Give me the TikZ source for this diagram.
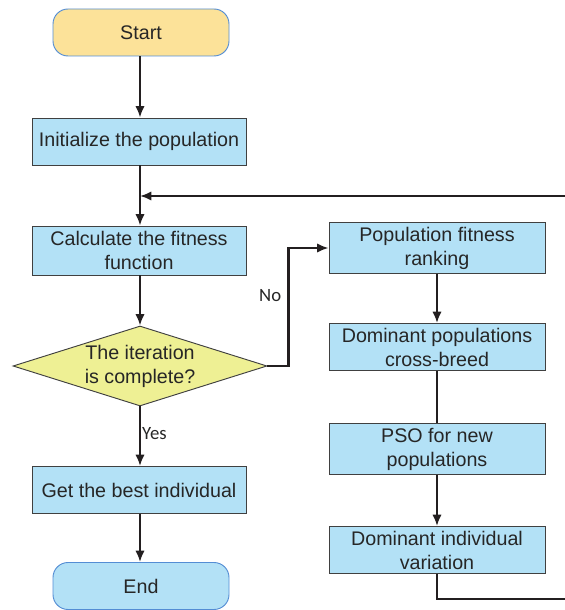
\documentclass[tikz,border=0pt]{standalone}
\usepackage{fontspec}
\setmainfont{Liberation Sans}
\newfontfamily\lblfont{Carlito}
\usetikzlibrary{shapes.geometric}
\usetikzlibrary{arrows.meta}

\definecolor{startfill}{RGB}{252,226,153}
\definecolor{termline}{RGB}{84,141,212}
\definecolor{boxfill}{RGB}{179,225,246}
\definecolor{boxline}{RGB}{64,64,64}
\definecolor{condfill}{RGB}{238,240,148}
\definecolor{flowline}{RGB}{35,31,32}

\tikzset{
  boxtext/.style = {font = \fontsize{16.8}{20.5}\selectfont, align = center,
  text = black!85},
  terminal/.style = {boxtext, rectangle, rounded corners = .45cm,
  draw = termline, line width = .8pt, minimum width = 5.28cm,
  minimum height = 1.41cm},
  process/.style = {boxtext, rectangle, draw = boxline, fill = boxfill,
  line width = .8pt, minimum width = 6.42cm, minimum height = 1.41cm},
  decision/.style = {boxtext, diamond, draw = boxline, fill = condfill,
  line width = .8pt, inner sep = 0pt, aspect = 3.17, minimum width = 7.62cm,
  minimum height = 2.4cm},
  flow/.style = {draw = flowline, line width = 1.8pt},
  lbl/.style = {font = \lblfont\fontsize{16}{18}\selectfont, text = black!85}
}

\begin{document}
\begin{tikzpicture}[>={Latex[length = 3.4mm, width = 2.8mm]}]
  \useasboundingbox (0, 0) rectangle (16.95, 18.3);

  % main column
  \node[terminal, fill = startfill] (start) at (4.23, 17.325) {Start};
  \node[process] (init) at (4.17, 14.055) {Initialize the population};
  \node[process, minimum height = 1.47cm] (calc) at (4.17, 10.785)
  {Calculate the fitness\\function};
  \node[decision] (cond) at (4.2, 7.32) {The iteration\\is complete?};
  \node[process] (best) at (4.17, 3.6) {Get the best individual};
  \node[terminal, fill = boxfill] (end) at (4.23, 0.72) {End};

  % right column
  \node[process, minimum width = 6.48cm] (rank) at (13.11, 10.86)
  {Population fitness\\ranking};
  \node[process, minimum width = 6.48cm] (cross) at (13.11, 7.89)
  {Dominant populations\\cross-breed};
  \node[process, minimum width = 6.48cm] (pso) at (13.11, 4.83)
  {PSO for new\\populations};
  \node[process, minimum width = 6.48cm] (vari) at (13.11, 1.8)
  {Dominant individual\\variation};

  \coordinate (fbR) at (16.95, 12.42);
  \coordinate (loopR) at (16.95, 0.33);

  \draw[flow, ->] (start.south -| 4.2, 0) -- (4.2, 0 |- init.north);
  \draw[flow, ->] (4.2, 0 |- init.south) -- (4.2, 0 |- calc.north);
  \draw[flow, ->] (4.2, 0 |- calc.south) -- (cond.north);
  \draw[flow, ->] (cond.south) -- (4.2, 0 |- best.north)
  node[lbl, pos = .45, right, inner sep = 1pt] {Yes};
  \draw[flow, ->] (4.2, 0 |- best.south) -- (4.2, 0 |- end.north);

  \draw[flow, ->] (cond.east) -- ++(.63, 0) |- (rank.west)
  node[lbl, pos = .3, left, xshift = -2pt] {No};
  \draw[flow, ->] (rank.south) -- (cross.north);
  \draw[flow] (cross.south) -- (pso.north);
  \draw[flow, ->] (pso.south) -- (vari.north);

  % loop back
  \draw[flow] (vari.south) |- (loopR);
  \draw[flow, ->] (fbR) -- (fbR -| 4.2, 0);
\end{tikzpicture}
\end{document}
